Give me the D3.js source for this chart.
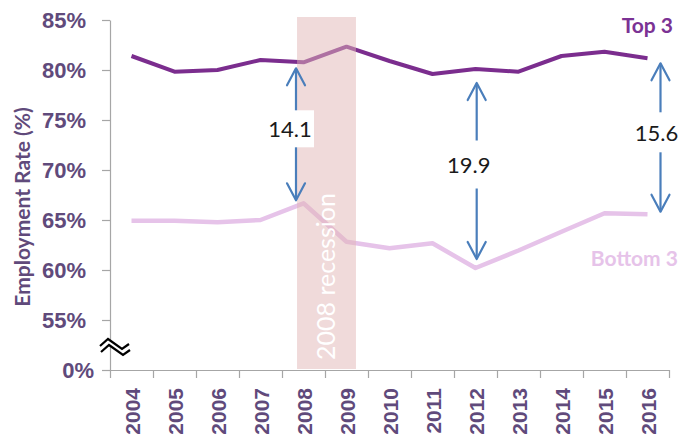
<!DOCTYPE html>
<html>
<head>
<meta charset="utf-8">
<script src="https://cdn.jsdelivr.net/npm/d3@7/dist/d3.min.js"></script>
<style>
  html, body { margin: 0; padding: 0; background: #ffffff; }
  svg { display: block; font-family: Lato, "Open Sans", sans-serif; }
</style>
</head>
<body>
<svg id="chart" width="681" height="439"></svg>
<script>
// ---------- data ----------
const years = ["2004","2005","2006","2007","2008","2009","2010","2011","2012","2013","2014","2015","2016"];
const top3 = [81.4, 79.83, 80.0, 81.0, 80.77, 82.33, 80.9, 79.6, 80.1, 79.83, 81.4, 81.83, 81.17];
const bottom3 = [64.93, 64.93, 64.77, 65.0, 66.67, 62.83, 62.17, 62.67, 60.2, 61.95, 63.83, 65.67, 65.57];
const yTickValues = [50, 55, 60, 65, 70, 75, 80, 85];
const yTickLabels = ["0%", "55%", "60%", "65%", "70%", "75%", "80%", "85%"];
const annYears = ["2008", "2012", "2016"];
const annLabels = ["14.1", "19.9", "15.6"];
const recessionYears = ["2008", "2009"];
const recessionLabel = "2008 recession";
const seriesNames = ["Top 3", "Bottom 3"];
const yTitle = "Employment Rate (%)";

// ---------- layout ----------
const W = 681, H = 439;
const plotL = 110, plotR = 669, plotT = 20, plotB = 370;
const colTop = "#7B2D8E", colBottom = "#E6C3E9", colAxisText = "#604A7B";
const colArrow = "#4A7EBB", colBand = "rgb(225,181,181)";

const svg = d3.select("#chart");

const x = d3.scaleBand().domain(years).range([plotL, plotR]).padding(0);
const bw = x.bandwidth();
const xc = d => x(d) + bw / 2;
const y = d3.scaleLinear().domain([50, 85]).range([plotB, plotT]);
const xEdges = d3.scaleLinear().domain([0, years.length]).range([plotL, plotR]);

// ---------- axes ----------
const yAxis = svg.append("g")
  .attr("transform", `translate(${plotL},0)`)
  .call(d3.axisLeft(y).tickValues(yTickValues)
        .tickFormat((d, i) => yTickLabels[i]).tickSize(8).tickSizeOuter(0).tickPadding(16));
yAxis.select(".domain").attr("stroke", "#A6A6A6").attr("stroke-width", 1.2);
yAxis.selectAll(".tick line").attr("stroke", "#A6A6A6").attr("stroke-width", 1.2);
yAxis.selectAll(".tick text")
  .attr("fill", colAxisText).style("font-size", "22px").style("font-weight", "bold")
  .attr("dx", (d, i) => i === 0 ? 8 : 0);

// x axis edge ticks
const xEdgeAxis = svg.append("g")
  .attr("transform", `translate(0,${plotB})`)
  .call(d3.axisBottom(xEdges).tickValues(d3.range(years.length + 1)).tickFormat("").tickSize(8).tickSizeOuter(0));
xEdgeAxis.select(".domain").attr("stroke", "#A6A6A6").attr("stroke-width", 1.2);
xEdgeAxis.selectAll(".tick line").attr("stroke", "#A6A6A6").attr("stroke-width", 1.2);

// x labels
const xAxis = svg.append("g")
  .attr("transform", `translate(0,${plotB})`)
  .call(d3.axisBottom(x).tickSize(0));
xAxis.select(".domain").remove();
xAxis.selectAll(".tick text")
  .attr("transform", "rotate(-90)")
  .attr("x", -18).attr("y", 1).attr("dy", "0.36em")
  .style("text-anchor", "end")
  .attr("fill", colAxisText).style("font-size", "21px").style("font-weight", "bold");

// y title
svg.append("text")
  .attr("transform", `translate(21,${(plotT + plotB) / 2 + 12}) rotate(-90)`)
  .attr("text-anchor", "middle").attr("dominant-baseline", "central")
  .attr("fill", colAxisText).style("font-size", "21px").style("font-weight", "bold")
  .text(yTitle);

// ---------- lines ----------
const line = d3.line().x((d, i) => xc(years[i])).y(d => y(d));
svg.append("path").datum(top3).attr("d", line)
  .attr("fill", "none").attr("stroke", colTop).attr("stroke-width", 4).attr("stroke-linejoin", "round");
svg.append("path").datum(bottom3).attr("d", line)
  .attr("fill", "none").attr("stroke", colBottom).attr("stroke-width", 4.5).attr("stroke-linejoin", "round");

// ---------- recession band ----------
const bandX0 = x(recessionYears[0]) + 0.35 * bw;
const bandX1 = x(recessionYears[1]) + 0.72 * bw;
svg.append("rect")
  .attr("x", bandX0).attr("y", plotT - 3).attr("width", bandX1 - bandX0).attr("height", plotB - plotT + 2)
  .attr("fill", colBand).attr("fill-opacity", 0.5);
svg.append("text")
  .attr("transform", `translate(${(bandX0 + bandX1) / 2 - 2},${plotB - 10}) rotate(-90)`)
  .attr("text-anchor", "start").attr("dominant-baseline", "central")
  .attr("fill", "#ffffff").style("font-size", "25px")
  .text(recessionLabel);

// ---------- series labels ----------
svg.append("text").attr("x", 673).attr("y", 33).attr("text-anchor", "end")
  .attr("fill", "#7B3294").style("font-size", "21px").style("font-weight", "bold").text(seriesNames[0]);
svg.append("text").attr("x", 678).attr("y", 266).attr("text-anchor", "end")
  .attr("fill", colBottom).style("font-size", "21px").style("font-weight", "bold").text(seriesNames[1]);

// ---------- gap arrows ----------
const annDx = [-7.5, 1.2, 13];
const annTopGap = [6, 14, 5];
const annBotGap = [3, 9, 2.6];
const annBoxH = [37, 48, 40];
const annLabelDx = [-6, -8, -4];
annYears.forEach((yr, k) => {
  const i = years.indexOf(yr);
  const ax = xc(yr) + annDx[k];
  const yT = y(top3[i]) + annTopGap[k];
  const yB = y(bottom3[i]) - annBotGap[k];
  const g = svg.append("g").attr("stroke", colArrow).attr("stroke-width", 2.2).attr("fill", "none")
    .attr("stroke-linecap", "round").attr("stroke-linejoin", "round");
  g.append("line").attr("x1", ax).attr("x2", ax).attr("y1", yT + 1).attr("y2", yB - 1);
  g.append("path").attr("d", `M${ax - 9},${yT + 17} L${ax},${yT} L${ax + 9},${yT + 17}`);
  g.append("path").attr("d", `M${ax - 9},${yB - 17} L${ax},${yB} L${ax + 9},${yB - 17}`);
  const cy = (y(top3[i]) + y(bottom3[i])) / 2 - 4;
  const lx = ax + annLabelDx[k];
  svg.append("rect").attr("x", lx - 24).attr("y", cy - annBoxH[k] / 2)
    .attr("width", 48).attr("height", annBoxH[k]).attr("fill", "#ffffff");
  svg.append("text").attr("x", lx).attr("y", cy).attr("text-anchor", "middle")
    .attr("dominant-baseline", "central").attr("fill", "#1a1a1a").style("font-size", "22px")
    .text(annLabels[k]);
});

// ---------- axis break symbol ----------
const bx = plotL + 3, by = y(52.3);
const zig1 = [[-13, -1], [-5, -8], [9, 2], [16, -3]];
const zig2 = zig1.map(p => [p[0] + 1, p[1] + 6]);
const poly = zig1.concat(zig2.slice().reverse());
svg.append("path")
  .attr("d", "M" + poly.map(p => `${bx + p[0]},${by + p[1]}`).join("L") + "Z")
  .attr("fill", "#ffffff");
[zig1, zig2].forEach(z => {
  svg.append("path").attr("d", "M" + z.map(p => `${bx + p[0]},${by + p[1]}`).join("L"))
    .attr("fill", "none").attr("stroke", "#000").attr("stroke-width", 2.2);
});
</script>
</body>
</html>
